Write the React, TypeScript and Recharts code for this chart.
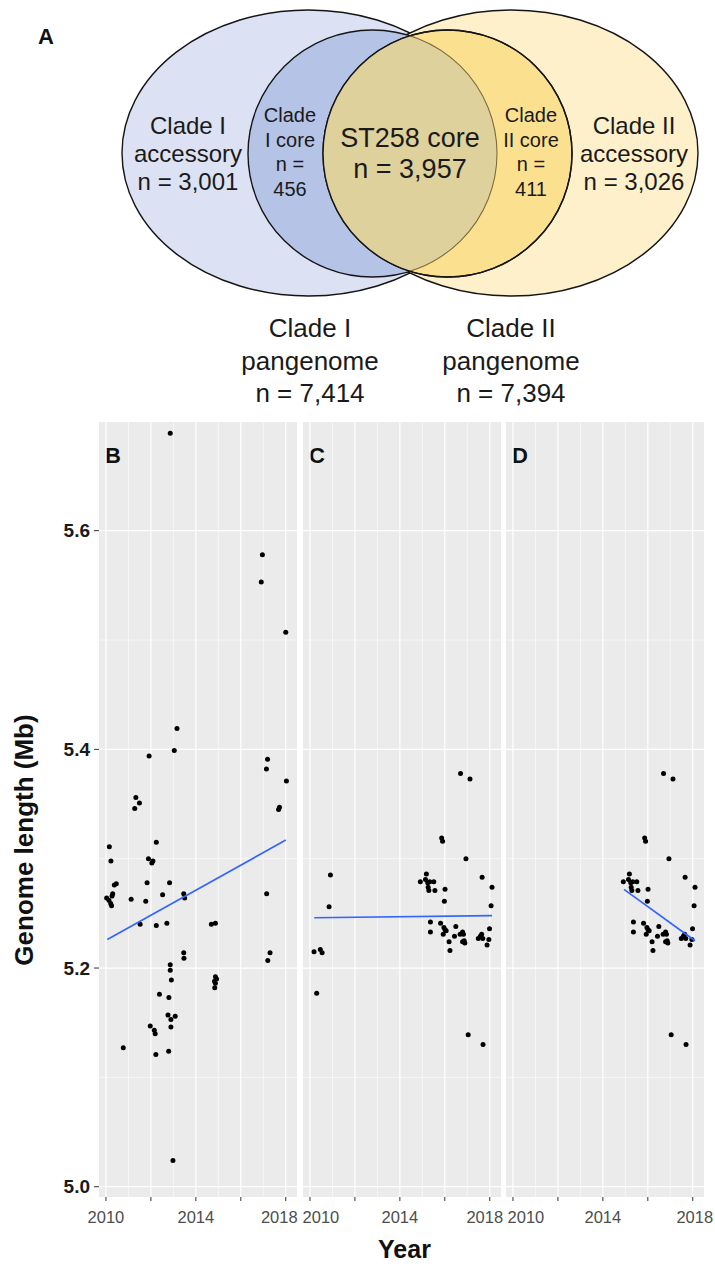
import React from 'react'
import {
  ScatterChart,
  Scatter,
  XAxis,
  YAxis,
  CartesianGrid,
  ReferenceLine,
  Customized
} from 'recharts'

const FONT = '"Liberation Sans", Arial, Helvetica, sans-serif'
const W = 715
const H = 1264

// ---- Panel A: gene counts
const accessoryCounts = [3001, 3026]
const cladeCoreCounts = [456, 411]
const st258CoreCount = 3957
const pangenomeCounts = [7414, 7394]

// ---- Panels B-D: genome length (Mb) by collection year
const cladeIPoints = [
  { year: 2012.86, mb: 5.689 }, { year: 2016.96, mb: 5.578 }, { year: 2016.91, mb: 5.553 },
  { year: 2018.0, mb: 5.507 }, { year: 2013.16, mb: 5.419 }, { year: 2013.04, mb: 5.399 },
  { year: 2011.92, mb: 5.394 }, { year: 2017.19, mb: 5.391 }, { year: 2017.14, mb: 5.382 },
  { year: 2018.03, mb: 5.371 }, { year: 2011.33, mb: 5.356 }, { year: 2011.49, mb: 5.351 },
  { year: 2011.28, mb: 5.346 }, { year: 2017.68, mb: 5.345 }, { year: 2017.72, mb: 5.347 },
  { year: 2010.15, mb: 5.311 }, { year: 2012.24, mb: 5.315 }, { year: 2010.22, mb: 5.298 },
  { year: 2011.89, mb: 5.3 }, { year: 2012.04, mb: 5.296 }, { year: 2012.09, mb: 5.298 },
  { year: 2010.37, mb: 5.276 }, { year: 2010.46, mb: 5.277 }, { year: 2011.83, mb: 5.278 },
  { year: 2012.83, mb: 5.278 }, { year: 2010.3, mb: 5.268 }, { year: 2010.03, mb: 5.264 },
  { year: 2010.13, mb: 5.262 }, { year: 2010.21, mb: 5.259 }, { year: 2010.25, mb: 5.257 },
  { year: 2010.27, mb: 5.266 }, { year: 2011.12, mb: 5.263 }, { year: 2011.77, mb: 5.261 },
  { year: 2012.52, mb: 5.267 }, { year: 2013.46, mb: 5.268 }, { year: 2013.5, mb: 5.264 },
  { year: 2017.15, mb: 5.268 }, { year: 2011.52, mb: 5.24 }, { year: 2012.24, mb: 5.239 },
  { year: 2012.71, mb: 5.241 }, { year: 2014.69, mb: 5.24 }, { year: 2014.87, mb: 5.241 },
  { year: 2013.46, mb: 5.214 }, { year: 2013.47, mb: 5.209 }, { year: 2017.3, mb: 5.214 },
  { year: 2017.2, mb: 5.207 }, { year: 2012.86, mb: 5.203 }, { year: 2012.86, mb: 5.198 },
  { year: 2012.91, mb: 5.189 }, { year: 2014.87, mb: 5.192 }, { year: 2014.92, mb: 5.19 },
  { year: 2014.83, mb: 5.188 }, { year: 2014.87, mb: 5.186 }, { year: 2014.84, mb: 5.182 },
  { year: 2012.38, mb: 5.176 }, { year: 2012.8, mb: 5.173 }, { year: 2012.76, mb: 5.157 },
  { year: 2012.89, mb: 5.153 }, { year: 2013.08, mb: 5.156 }, { year: 2011.97, mb: 5.147 },
  { year: 2012.15, mb: 5.143 }, { year: 2012.19, mb: 5.14 }, { year: 2012.89, mb: 5.146 },
  { year: 2010.77, mb: 5.127 }, { year: 2012.79, mb: 5.124 }, { year: 2012.22, mb: 5.121 },
  { year: 2012.98, mb: 5.024 }
]

const cladeIIEarlyPoints = [
  { year: 2010.91, mb: 5.285 }, { year: 2010.85, mb: 5.256 }, { year: 2010.18, mb: 5.215 },
  { year: 2010.46, mb: 5.217 }, { year: 2010.54, mb: 5.214 }, { year: 2010.3, mb: 5.177 }
]

const cladeIILatePoints = [
  { year: 2016.7, mb: 5.378 }, { year: 2017.12, mb: 5.373 }, { year: 2015.86, mb: 5.319 },
  { year: 2015.9, mb: 5.316 }, { year: 2016.94, mb: 5.3 }, { year: 2017.66, mb: 5.283 },
  { year: 2018.1, mb: 5.274 }, { year: 2014.91, mb: 5.279 }, { year: 2015.18, mb: 5.286 },
  { year: 2015.14, mb: 5.281 }, { year: 2015.24, mb: 5.278 }, { year: 2015.33, mb: 5.279 },
  { year: 2015.26, mb: 5.274 }, { year: 2015.29, mb: 5.271 }, { year: 2015.51, mb: 5.279 },
  { year: 2015.56, mb: 5.271 }, { year: 2016.01, mb: 5.272 }, { year: 2015.98, mb: 5.261 },
  { year: 2018.06, mb: 5.257 }, { year: 2015.36, mb: 5.242 }, { year: 2015.36, mb: 5.233 },
  { year: 2015.81, mb: 5.241 }, { year: 2015.96, mb: 5.237 }, { year: 2016.01, mb: 5.235 },
  { year: 2016.06, mb: 5.234 }, { year: 2015.93, mb: 5.231 }, { year: 2016.49, mb: 5.238 },
  { year: 2016.43, mb: 5.229 }, { year: 2016.19, mb: 5.224 }, { year: 2016.23, mb: 5.216 },
  { year: 2016.68, mb: 5.231 }, { year: 2016.79, mb: 5.233 }, { year: 2016.83, mb: 5.231 },
  { year: 2016.79, mb: 5.224 }, { year: 2016.89, mb: 5.223 }, { year: 2016.86, mb: 5.225 },
  { year: 2017.49, mb: 5.227 }, { year: 2017.58, mb: 5.229 }, { year: 2017.64, mb: 5.231 },
  { year: 2017.69, mb: 5.227 }, { year: 2017.99, mb: 5.236 }, { year: 2017.96, mb: 5.226 },
  { year: 2017.88, mb: 5.221 }, { year: 2017.04, mb: 5.139 }, { year: 2017.7, mb: 5.13 }
]

// fitted trend lines, end points
const fitB = [{ year: 2010.06, mb: 5.226 }, { year: 2018.0, mb: 5.317 }]
const fitC = [{ year: 2010.19, mb: 5.246 }, { year: 2018.1, mb: 5.248 }]
const fitD = [{ year: 2014.94, mb: 5.272 }, { year: 2018.1, mb: 5.225 }]

const yearTicks = [2010, 2012, 2014, 2016, 2018]
const yearLabels = [2010, 2014, 2018]
const minorYears = [2011, 2013, 2015, 2017]
const mbTicks = [5.0, 5.2, 5.4, 5.6]
const minorMb = [5.1, 5.3, 5.5]

const X_DOMAIN = [2009.69, 2018.5]
const Y_DOMAIN = [4.9906, 5.6994]

const fmt = (n: number) => n.toLocaleString('en-US')

// ---- Venn layout (drawn in a 715x420 unit space, 1 unit = 1 px)
const vennShapes = [
  { key: 'accI', x: 308.5, y: 153, rx: 186.5, ry: 143 },
  { key: 'accII', x: 511.5, y: 153, rx: 186.5, ry: 143 },
  { key: 'coreI', x: 372.5, y: 153.5, rx: 124.5, ry: 123.5 },
  { key: 'coreII', x: 447.5, y: 153.5, rx: 124.5, ry: 123.5 },
  { key: 'st258', x: 447.5, y: 153.5, rx: 124.5, ry: 123.5 }
]
const vennFill: Record<string, string> = {
  accI: '#dce2f4',
  accII: '#fdf0cb',
  coreI: '#b5c3e7',
  coreII: '#fbe18f',
  st258: '#dfd19b'
}

const vennLabels = [
  { x: 188, y: 134, size: 24, lh: 28, lines: ['Clade I', 'accessory', `n = ${fmt(accessoryCounts[0])}`] },
  { x: 290, y: 122, size: 20, lh: 24.7, lines: ['Clade', 'I core', 'n =', String(cladeCoreCounts[0])] },
  { x: 410, y: 147, size: 27, lh: 31, lines: ['ST258 core', `n = ${fmt(st258CoreCount)}`] },
  { x: 531, y: 122, size: 20, lh: 24.7, lines: ['Clade', 'II core', 'n =', String(cladeCoreCounts[1])] },
  { x: 634, y: 134, size: 24, lh: 28, lines: ['Clade II', 'accessory', `n = ${fmt(accessoryCounts[1])}`] },
  { x: 310, y: 337, size: 26, lh: 32.5, lines: ['Clade I', 'pangenome', `n = ${fmt(pangenomeCounts[0])}`] },
  { x: 511, y: 337, size: 26, lh: 32.5, lines: ['Clade II', 'pangenome', `n = ${fmt(pangenomeCounts[1])}`] }
]

const VennShapeMark = (p: any) => {
  const s = p.payload
  const { cx, cy } = p
  if (s.key === 'st258') {
    const coreI = vennShapes[2]
    const dx = coreI.x - s.x
    const dy = coreI.y - s.y
    return (
      <g>
        <defs>
          <clipPath id="clip-core-i">
            <ellipse cx={cx + dx} cy={cy + dy} rx={coreI.rx} ry={coreI.ry} />
          </clipPath>
          <clipPath id="clip-core-ii">
            <ellipse cx={cx} cy={cy} rx={s.rx} ry={s.ry} />
          </clipPath>
        </defs>
        <ellipse cx={cx} cy={cy} rx={s.rx} ry={s.ry} fill={vennFill.st258} clipPath="url(#clip-core-i)" />
        <ellipse
          cx={cx + dx}
          cy={cy + dy}
          rx={coreI.rx}
          ry={coreI.ry}
          fill="none"
          stroke="#7d6c3c"
          strokeWidth={1.1}
          clipPath="url(#clip-core-ii)"
        />
        <ellipse cx={cx} cy={cy} rx={s.rx} ry={s.ry} fill="none" stroke="#151515" strokeWidth={1.4} />
      </g>
    )
  }
  return (
    <ellipse cx={cx} cy={cy} rx={s.rx} ry={s.ry} fill={vennFill[s.key]} stroke="#151515" strokeWidth={1.4} />
  )
}

const VennLabelMark = (p: any) => {
  const l = p.payload
  return (
    <text x={p.cx} y={p.cy} textAnchor="middle" fontFamily={FONT} fontSize={l.size} fill="#1a1a1a">
      {l.lines.map((t: string, i: number) => (
        <tspan key={i} x={p.cx} dy={i === 0 ? 0 : l.lh}>
          {t}
        </tspan>
      ))}
    </text>
  )
}

const Dot = (p: any) => <circle cx={p.cx} cy={p.cy} r={2.5} fill="#000" />
const NoMark = () => <g />

// year labels sit nudged inside the facet, as in the original figure
const makeYearTick = (nudge: Record<number, number>) => (p: any) => {
  const v = p.payload.value
  if (!yearLabels.includes(v)) return <g />
  return (
    <text
      x={p.x + (nudge[v] || 0)}
      y={p.y}
      dy="0.71em"
      textAnchor="middle"
      fontFamily={FONT}
      fontSize={16.5}
      fill="#4d4d4d"
    >
      {v}
    </text>
  )
}

type PanelProps = {
  left: number
  right: number
  showY: boolean
  points: { year: number; mb: number }[]
  fit: { year: number; mb: number }[]
  tag: string
  tagX: number
  nudge: Record<number, number>
  extra?: React.ReactNode
}

function Panel({ left, right, showY, points, fit, tag, tagX, nudge, extra }: PanelProps) {
  return (
    <div style={{ position: 'absolute', left: 0, top: 0 }}>
      <ScatterChart
        width={W}
        height={H}
        margin={{ top: 422, right: W - right, bottom: 27, left: showY ? 0 : left }}
      >
        <CartesianGrid fill="#ebebeb" horizontal={false} vertical={false} />
        {minorYears.map((v) => (
          <ReferenceLine key={'mx' + v} x={v} stroke="#ffffff" strokeWidth={0.6} />
        ))}
        {minorMb.map((v) => (
          <ReferenceLine key={'my' + v} y={v} stroke="#ffffff" strokeWidth={0.6} />
        ))}
        {yearTicks.map((v) => (
          <ReferenceLine key={'x' + v} x={v} stroke="#ffffff" strokeWidth={1.2} />
        ))}
        {mbTicks.map((v) => (
          <ReferenceLine key={'y' + v} y={v} stroke="#ffffff" strokeWidth={1.2} />
        ))}
        <XAxis
          type="number"
          dataKey="year"
          domain={X_DOMAIN}
          allowDataOverflow
          ticks={yearTicks}
          interval={0}
          axisLine={false}
          tickSize={4}
          tickMargin={10}
          tickLine={{ stroke: '#333333' }}
          tick={makeYearTick(nudge)}
          height={40}
        />
        <YAxis
          type="number"
          dataKey="mb"
          domain={Y_DOMAIN}
          allowDataOverflow
          ticks={mbTicks}
          interval={0}
          hide={!showY}
          width={left}
          tickFormatter={(v: number) => v.toFixed(1)}
          axisLine={false}
          tickSize={5}
          tickMargin={4}
          tickLine={{ stroke: '#333333' }}
          tick={{ fill: '#1a1a1a', fontSize: 19, fontWeight: 'bold', fontFamily: FONT }}
        />
        <Scatter data={points} shape={Dot} isAnimationActive={false} />
        <Scatter
          data={fit}
          shape={NoMark}
          line={{ stroke: '#3366ff', strokeWidth: 1.7 }}
          lineType="joint"
          isAnimationActive={false}
        />
        <Customized
          component={() => (
            <g>
              <text x={tagX} y={462.5} fontFamily={FONT} fontSize={22} fontWeight="bold" fill="#111">
                {tag}
              </text>
              {extra}
            </g>
          )}
        />
      </ScatterChart>
    </div>
  )
}

export default function App() {
  const cladeIIAll = [...cladeIIEarlyPoints, ...cladeIILatePoints]
  return (
    <div
      style={{
        position: 'absolute',
        left: 0,
        top: 0,
        width: W,
        height: H,
        background: '#ffffff',
        fontFamily: FONT
      }}
    >
      <div style={{ position: 'absolute', left: 0, top: 0 }}>
        <ScatterChart width={W} height={420} margin={{ top: 0, right: 0, bottom: 0, left: 0 }}>
          <XAxis type="number" dataKey="x" domain={[0, W]} allowDataOverflow hide />
          <YAxis type="number" dataKey="y" domain={[0, 420]} allowDataOverflow reversed hide />
          <Scatter data={vennShapes} shape={VennShapeMark} isAnimationActive={false} />
          <Scatter data={vennLabels} shape={VennLabelMark} isAnimationActive={false} />
          <Customized
            component={() => (
              <text x={38} y={44} fontFamily={FONT} fontSize={22} fontWeight="bold" fill="#111">
                A
              </text>
            )}
          />
        </ScatterChart>
      </div>

      <Panel
        left={99}
        right={297}
        showY
        points={cladeIPoints}
        fit={fitB}
        tag="B"
        tagX={105}
        nudge={{ 2010: 0, 2018: -6.5 }}
        extra={
          <text
            x={33}
            y={840}
            transform="rotate(-90 33 840)"
            textAnchor="middle"
            fontFamily={FONT}
            fontSize={26}
            fontWeight="bold"
            fill="#111"
          >
            Genome length (Mb)
          </text>
        }
      />
      <Panel
        left={303}
        right={501}
        showY={false}
        points={cladeIIAll}
        fit={fitC}
        tag="C"
        tagX={309}
        nudge={{ 2010: 11, 2018: -5 }}
        extra={
          <text x={404.5} y={1258} textAnchor="middle" fontFamily={FONT} fontSize={25} fontWeight="bold" fill="#111">
            Year
          </text>
        }
      />
      <Panel
        left={506}
        right={704}
        showY={false}
        points={cladeIILatePoints}
        fit={fitD}
        tag="D"
        tagX={512}
        nudge={{ 2010: 13, 2018: 2 }}
      />
    </div>
  )
}
